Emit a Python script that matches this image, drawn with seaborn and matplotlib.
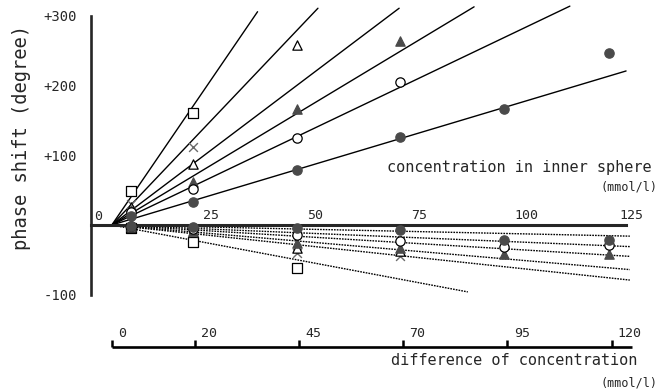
import numpy as np
import pandas as pd
import matplotlib.pyplot as plt
import seaborn as sns

# concentration in inner sphere of the measured columns (mmol/l)
conc = [9.6, 24.5, 49.5, 74.3, 99.2, 124.5]

# phase shift above the axis (degree)
up_square = [49, 161]
up_cross = [30, 112]
up_tri_open = [26, 88, 258]
up_tri_fill = [22, 62, 166, 264]
up_circ_open = [18, 52, 125, 205]
up_circ_fill = [13, 33, 79, 126, 166, 247]

# phase shift below the axis (degree)
lo_square = [-4, -24, -62]
lo_cross = [-3, -12, -40, -45]
lo_tri_open = [-3, -10, -33, -38]
lo_tri_fill = [-2, -8, -26, -33, -42, -42]
lo_circ_open = [-2, -6, -14, -23, -32, -29]
lo_circ_fill = [-1, -3, -4, -7, -22, -21]

# fitted lines start at conc 5 (difference 0)
line_start = 5
solid_end_conc = [40, 54.5, 74, 92, 115, 128.5]
solid_end_phase = [306, 311, 311, 313, 314, 221]
dotted_end_conc = [129.4, 129.4, 129.4, 129.4, 129.4, 90.5]
dotted_end_phase = [-16, -31, -45, -64, -79, -96]

conc_ticks = [25, 50, 75, 100, 125]
diff_ticks = [0, 20, 45, 70, 95, 120]
phase_ticks = [-100, 100, 200, 300]
phase_labels = ["-100", "+100", "+200", "+300"]

sns.set_style("white")
plt.rcParams["font.family"] = ["DejaVu Sans Mono"]

# pixel calibration of the original figure
px_conc, px_deg = 4.164, 0.697
ox, oy = 91, 225
W, H = 661, 389

fig = plt.figure(figsize=(W / 100, H / 100), dpi=100)
ax = fig.add_axes([0, 0, 1, 1])
ax.set_xlim(-ox / px_conc, (W - ox) / px_conc)
ax.set_ylim(-(H - oy) / px_deg, oy / px_deg)
ax.patch.set_alpha(0)

# regression lines
for c_end, p_end in zip(solid_end_conc, solid_end_phase):
    sns.lineplot(x=[line_start, c_end], y=[0, p_end], color="black", lw=1.0, ax=ax, zorder=2)
for c_end, p_end in zip(dotted_end_conc, dotted_end_phase):
    sns.lineplot(x=[line_start, c_end], y=[0, p_end], color="black", lw=1.0,
                 linestyle=(0, (1.2, 0.8)), ax=ax, zorder=2)

# measured points
styles = [
    ("s", "white", "black", up_square, lo_square, 50),
    ("x", None, "#6a6a6a", up_cross, lo_cross, 40),
    ("^", "white", "black", up_tri_open, lo_tri_open, 45),
    ("^", "#4a4a4a", "#4a4a4a", up_tri_fill, lo_tri_fill, 45),
    ("o", "white", "black", up_circ_open, lo_circ_open, 45),
    ("o", "#4a4a4a", "#4a4a4a", up_circ_fill, lo_circ_fill, 45),
]
for marker, face, edge, up, lo, size in styles:
    for vals in (up, lo):
        x = conc[:len(vals)]
        if face is None:
            sns.scatterplot(x=x, y=vals, marker=marker, color=edge, s=size,
                            linewidth=1.0, ax=ax, zorder=4)
        else:
            sns.scatterplot(x=x, y=vals, marker=marker, color=edge, facecolor=face,
                            edgecolor=edge, s=size, linewidth=0.9, ax=ax, zorder=4)

# phase axis
ax.spines["left"].set_position(("data", 0))
ax.spines["left"].set_bounds(-100, 300)
ax.spines["left"].set_linewidth(1.9)
ax.set_yticks(phase_ticks, phase_labels)
ax.tick_params(axis="y", direction="in", length=4.5, width=1.8, pad=10, labelsize=10)

# concentration axis
ax.spines["bottom"].set_position(("data", 0))
ax.spines["bottom"].set_bounds(0, 128.5)
ax.spines["bottom"].set_linewidth(2.2)
ax.set_xticks(conc_ticks)
ax.tick_params(axis="x", direction="in", length=6.5, width=1.8, labelbottom=False)
for s in ["top", "right"]:
    ax.spines[s].set_visible(False)
for t in conc_ticks:
    ax.text(t + 1.8, 14, str(t), ha="left", va="center", fontsize=9.5)
ax.text(1.7, 12, "0", ha="center", va="center", fontsize=9.5)
ax.text(102.8, 82, "concentration in inner sphere", ha="center", va="center", fontsize=11)
ax.text(136, 54, "(mmol/l)", ha="right", va="center", fontsize=8.5)

# difference of concentration axis
diff_y = -175
ax.hlines(diff_y, line_start, 130, color="black", lw=1.9)
ax.vlines([d + line_start for d in diff_ticks], diff_y, diff_y + 10, color="black", lw=1.8)
for d in diff_ticks:
    ax.text(d + line_start + 1.5, diff_y + 19, str(d), ha="left", va="center", fontsize=9.5)
ax.text(101.6, -194, "difference of concentration", ha="center", va="center", fontsize=11)
ax.text(136, -227, "(mmol/l)", ha="right", va="center", fontsize=8.5)

ax.text(-16.6, 126, "phase shift (degree)", rotation=90, ha="center", va="center", fontsize=13.5)

fig.savefig("out.png", dpi=100)
